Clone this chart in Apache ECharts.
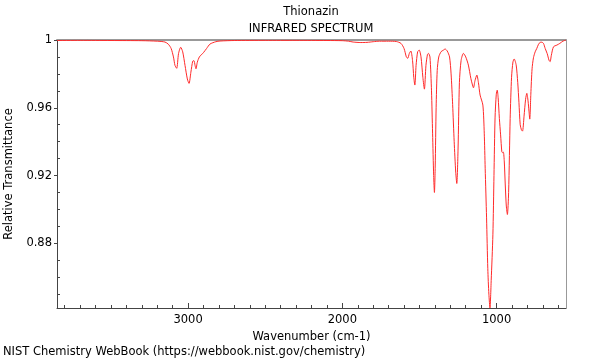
<!DOCTYPE html>
<html>
<head>
<meta charset="utf-8">
<script src="https://cdn.jsdelivr.net/npm/echarts@6/dist/echarts.min.js"></script>
<style>html,body{margin:0;padding:0;background:#fff}#c{width:600px;height:360px}</style>
</head>
<body>
<div id="c"></div>
<script>
var chartTitle = 'Thionazin';
var chartSubtitle = 'INFRARED SPECTRUM';
var xName = 'Wavenumber (cm-1)';
var yName = 'Relative Transmittance';
var footer = 'NIST Chemistry WebBook (https://webbook.nist.gov/chemistry)';

var xMajorTicks = [1000, 2000, 3000];
var xMinorTicks = [600,700,800,900,1100,1200,1300,1400,1500,1600,1700,1800,1900,2100,2200,2300,2400,2500,2600,2700,2800,2900,3100,3200,3300,3400,3500,3600,3700,3800];
var yMajorTicks = [0.88, 0.92, 0.96, 1];
var yMinorTicks = [0.85,0.86,0.87,0.89,0.90,0.91,0.93,0.94,0.95,0.97,0.98,0.99];

var wavenumber = [3850,3700,3500,3300,3200,3150,3128,3110,3095,3085,3074,3062,3048,3035,3020,3005,2994,2982,2970,2962,2955,2949,2940,2927,2915,2901,2880,2858,2820,2793,2700,2500,2300,2100,2000,1960,1930,1880,1840,1800,1760,1700,1650,1620,1600,1585,1576,1566,1556,1545,1537,1530,1522,1512,1502,1490,1478,1468,1458,1448,1442,1432,1422,1415,1408,1403,1398,1392,1385,1375,1360,1345,1334,1320,1305,1295,1285,1275,1265,1258,1250,1241,1230,1215,1200,1183,1167,1158,1150,1140,1128,1118,1107,1089,1080,1074,1065,1057,1050,1043,1035,1024,1017,1010,1002,996,990,982,974,966,961,956,950,944,937,930,922,912,903,894,886,873,863,855,847,839,832,822,812,804,796,790,785,778,770,761,750,739,728,718,707,696,685,672,660,653,645,631,609,590,570,550];
var transmittance = [0.9997,0.9998,0.9997,0.9996,0.9993,0.9988,0.9975,0.995,0.990,0.985,0.9833,0.992,0.9957,0.993,0.985,0.977,0.9744,0.981,0.9875,0.9878,0.985,0.983,0.987,0.990,0.9912,0.9925,0.995,0.9976,0.999,0.9994,0.9997,0.9998,0.9998,0.9997,0.9996,0.9993,0.9988,0.9985,0.9986,0.9990,0.9993,0.9993,0.9991,0.998,0.995,0.990,0.9892,0.992,0.9935,0.988,0.978,0.9734,0.985,0.993,0.9941,0.990,0.978,0.971,0.985,0.9915,0.9921,0.990,0.970,0.945,0.920,0.910,0.925,0.960,0.982,0.990,0.9931,0.994,0.9947,0.9935,0.990,0.980,0.962,0.940,0.922,0.9153,0.935,0.975,0.988,0.9921,0.990,0.9852,0.9774,0.974,0.9718,0.976,0.9793,0.975,0.9675,0.9616,0.945,0.9243,0.895,0.865,0.850,0.8418,0.858,0.885,0.920,0.954,0.968,0.9704,0.966,0.9537,0.944,0.934,0.9335,0.9338,0.928,0.915,0.902,0.897,0.910,0.9537,0.978,0.987,0.9888,0.9852,0.975,0.963,0.950,0.947,0.9462,0.955,0.965,0.9685,0.964,0.958,0.9533,0.968,0.983,0.9895,0.993,0.9951,0.9975,0.9986,0.9987,0.998,0.995,0.992,0.988,0.9872,0.991,0.996,0.997,0.998,0.9993,1.0];

var xMin = 550, xMax = 3850, yMin = 0.8418, yMax = 1;
var FONT = 'DejaVu Sans';
var FS = 11.5;

var pts = wavenumber.map(function (w, i) { return [w, transmittance[i]]; });

var chart = echarts.init(document.getElementById('c'), null, {renderer: 'canvas'});
chart.setOption({
  animation: false,
  backgroundColor: '#fff',
  textStyle: {fontFamily: FONT},
  grid: {left: 57, right: 34, top: 40, bottom: 52, containLabel: false, outerBoundsMode: 'none'},
  graphic: [
    {type: 'text', x: 311, y: 6, style: {text: chartTitle, textAlign: 'center', font: FS + 'px "DejaVu Sans"', fill: '#000'}},
    {type: 'text', x: 311, y: 23, style: {text: chartSubtitle, textAlign: 'center', font: FS + 'px "DejaVu Sans"', fill: '#000'}},
    {type: 'text', x: 3, y: 346, style: {text: footer, font: FS + 'px "DejaVu Sans"', fill: '#000'}}
  ],
  xAxis: [
    {type: 'value', min: xMin, max: xMax, inverse: true, position: 'bottom',
     name: xName, nameLocation: 'middle', nameGap: 22,
     nameTextStyle: {fontFamily: FONT, fontSize: FS, color: '#000'},
     axisLine: {show: true, lineStyle: {color: '#444', width: 1}},
     axisTick: {show: true, inside: true, length: 5, customValues: xMajorTicks, lineStyle: {color: '#444'}},
     axisLabel: {show: true, customValues: xMajorTicks, fontFamily: FONT, fontSize: FS, color: '#000', margin: 6,
       formatter: function (v) { return String(Math.round(v)); }},
     splitLine: {show: false}},
    {type: 'value', min: xMin, max: xMax, inverse: true, position: 'bottom',
     axisLine: {show: false},
     axisTick: {show: true, inside: true, length: 3, customValues: xMinorTicks, lineStyle: {color: '#444'}},
     axisLabel: {show: false}, splitLine: {show: false}},
    {type: 'value', min: xMin, max: xMax, inverse: true, position: 'top',
     axisLine: {show: true, onZero: false, lineStyle: {color: '#999', width: 2}},
     axisTick: {show: false}, axisLabel: {show: false}, splitLine: {show: false}}
  ],
  yAxis: [
    {type: 'value', min: yMin, max: yMax, position: 'left',
     name: yName, nameLocation: 'middle', nameGap: 40,
     nameTextStyle: {fontFamily: FONT, fontSize: FS, color: '#000'},
     axisLine: {show: true, lineStyle: {color: '#444', width: 1}},
     axisTick: {show: true, inside: false, length: 3, customValues: yMajorTicks, lineStyle: {color: '#444'}},
     axisLabel: {show: true, customValues: yMajorTicks, fontFamily: FONT, fontSize: FS, color: '#000', margin: 5,
       formatter: function (v) { return Math.abs(v - 1) < 1e-9 ? '1' : v.toFixed(2); }},
     splitLine: {show: false}},
    {type: 'value', min: yMin, max: yMax, position: 'left',
     axisLine: {show: false},
     axisTick: {show: true, inside: true, length: 3, customValues: yMinorTicks.concat([1]), lineStyle: {color: '#444'}},
     axisLabel: {show: false}, splitLine: {show: false}},
    {type: 'value', min: yMin, max: yMax, position: 'right',
     axisLine: {show: true, onZero: false, lineStyle: {color: '#999', width: 1}},
     axisTick: {show: false}, axisLabel: {show: false}, splitLine: {show: false}}
  ],
  series: [{
    type: 'line', xAxisIndex: 0, yAxisIndex: 0, data: pts,
    showSymbol: false, symbol: 'none', smooth: 0.25, clip: true,
    lineStyle: {color: '#ff2a2a', width: 1}
  }]
});
</script>
</body>
</html>
